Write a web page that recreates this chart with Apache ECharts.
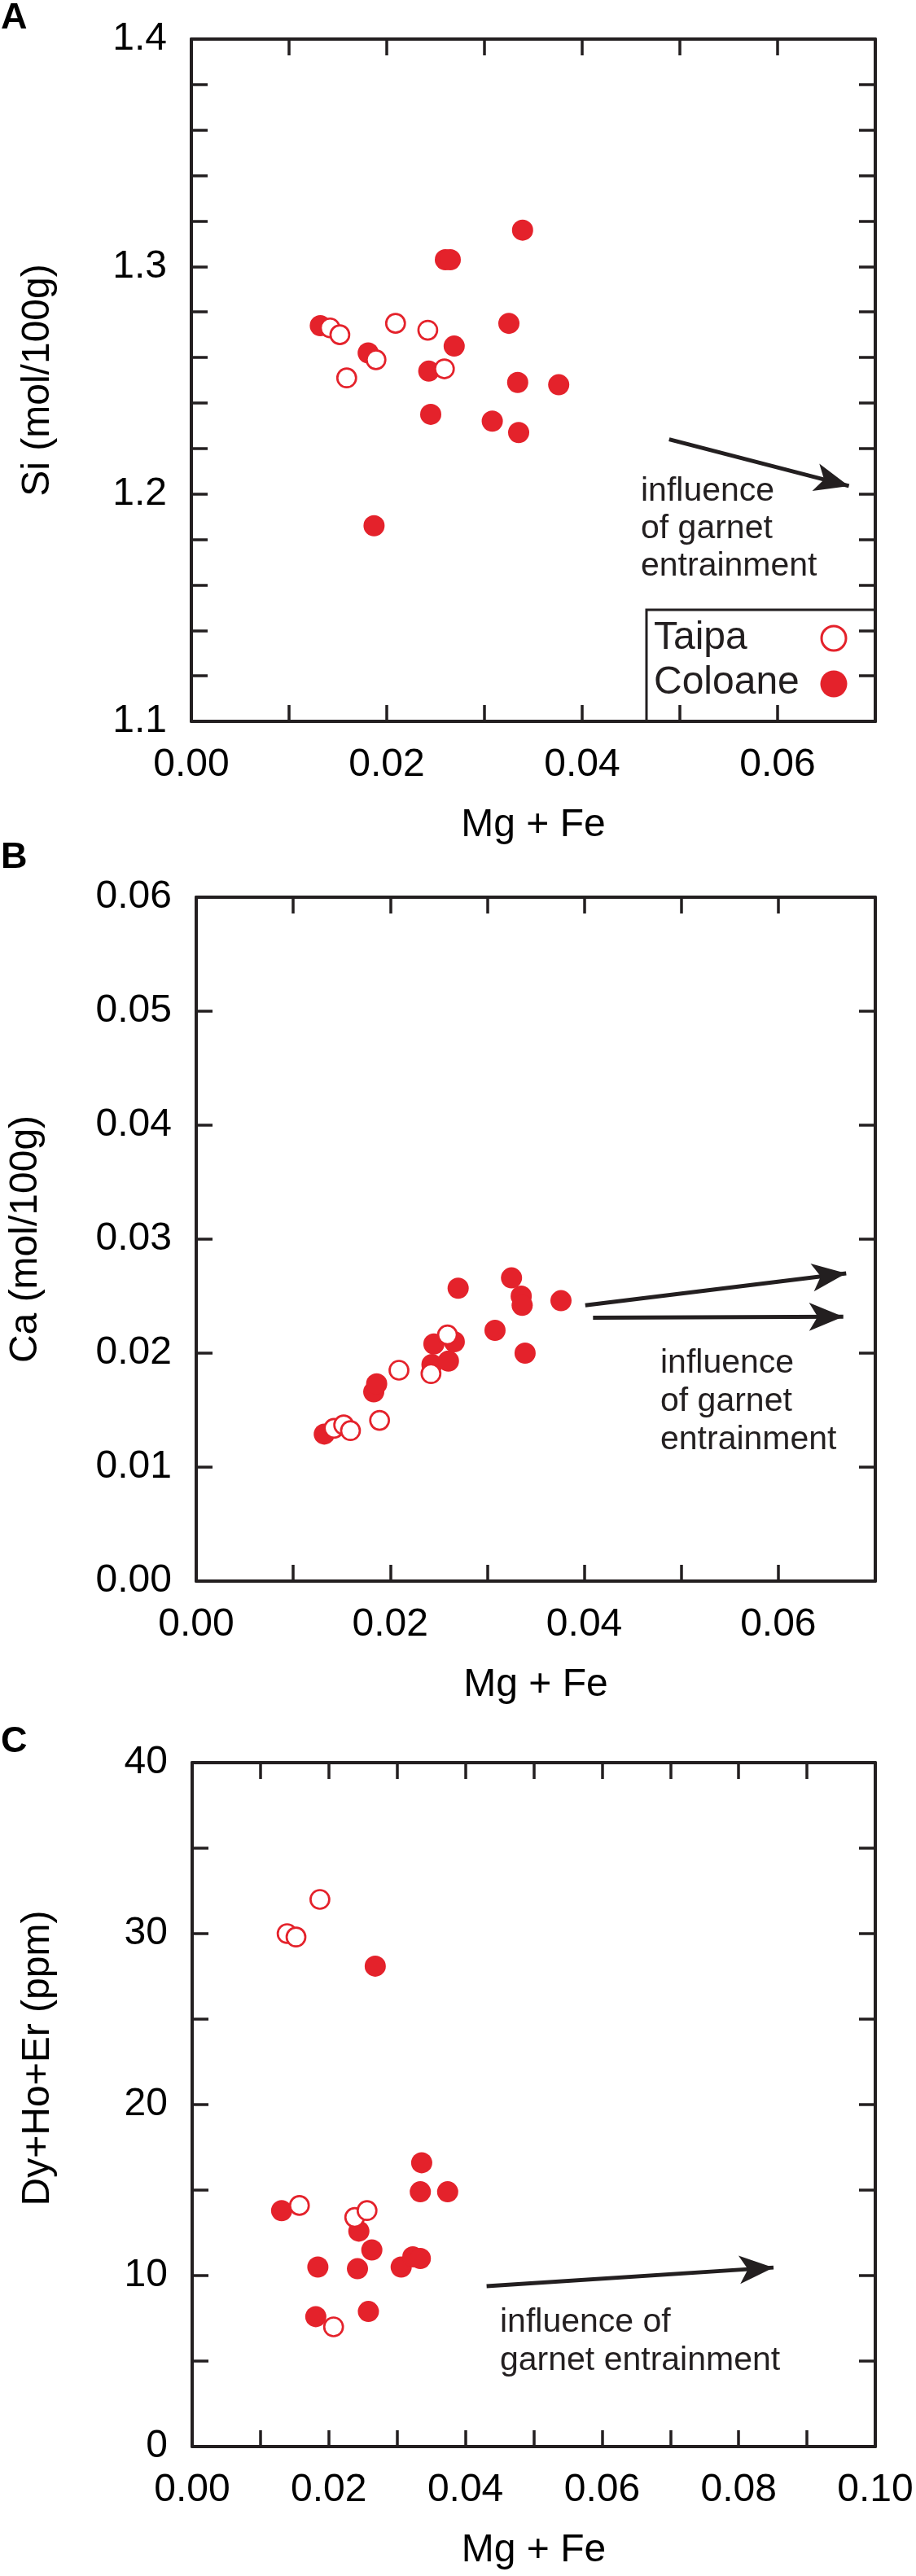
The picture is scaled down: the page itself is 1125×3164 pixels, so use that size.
<!DOCTYPE html>
<html>
<head>
<meta charset="utf-8">
<title>Mg + Fe plots</title>
<script src="https://cdn.jsdelivr.net/npm/echarts@6/dist/echarts.min.js"></script>
<style>
html, body { margin: 0; padding: 0; background: #fff; }
#chart { width: 1125px; height: 3164px; }
</style>
</head>
<body>
<div id="chart"></div>
<script>
// === Panel A: Si vs Mg + Fe ===
const aColoaneX = [0.0132, 0.0181, 0.0187, 0.0243, 0.0245, 0.0260, 0.0265, 0.0269, 0.0308, 0.0325, 0.0339, 0.0334, 0.0335, 0.0376];
const aColoaneY = [1.274, 1.262, 1.186, 1.254, 1.235, 1.303, 1.303, 1.265, 1.232, 1.275, 1.316, 1.249, 1.227, 1.248];
const aTaipaX = [0.0142, 0.0152, 0.0159, 0.0189, 0.0209, 0.0242, 0.0259];
const aTaipaY = [1.273, 1.270, 1.251, 1.259, 1.275, 1.272, 1.255];
const aArrow = [[0.0489, 1.224], [0.0673, 1.2035]];
const aXLabels = [0, 0.02, 0.04, 0.06];
const aYLabels = [1.1, 1.2, 1.3, 1.4];

// === Panel B: Ca vs Mg + Fe ===
const bColoaneX = [0.0132, 0.0183, 0.0186, 0.0245, 0.0243, 0.0260, 0.0266, 0.0270, 0.0308, 0.0325, 0.0335, 0.0336, 0.0339, 0.0376];
const bColoaneY = [0.0129, 0.0166, 0.0173, 0.0208, 0.0190, 0.0193, 0.0210, 0.0257, 0.0220, 0.0266, 0.0250, 0.0242, 0.0200, 0.0246];
const bTaipaX = [0.0142, 0.0152, 0.0159, 0.0189, 0.0209, 0.0242, 0.0259];
const bTaipaY = [0.0134, 0.0137, 0.0132, 0.0141, 0.0185, 0.0182, 0.0216];
const bArrows = [
  [[0.0401, 0.0242], [0.0670, 0.0270]],
  [[0.0409, 0.0231], [0.0667, 0.0232]]
];
const bXLabels = [0, 0.02, 0.04, 0.06];
const bYLabels = [0, 0.01, 0.02, 0.03, 0.04, 0.05, 0.06];

// === Panel C: Dy+Ho+Er vs Mg + Fe ===
const cColoaneX = [0.0131, 0.0184, 0.0181, 0.0244, 0.0242, 0.0263, 0.0258, 0.0268, 0.0306, 0.0323, 0.0336, 0.0334, 0.0334, 0.0374];
const cColoaneY = [13.8, 10.5, 7.6, 12.6, 10.4, 11.5, 7.9, 28.1, 10.5, 11.1, 16.6, 14.9, 11.0, 14.9];
const cTaipaX = [0.0139, 0.0152, 0.0187, 0.0157, 0.0207, 0.0238, 0.0256];
const cTaipaY = [30.0, 29.8, 32.0, 14.1, 7.0, 13.4, 13.8];
const cArrow = [[0.0431, 9.38], [0.0851, 10.47]];
const cXLabels = [0, 0.02, 0.04, 0.06, 0.08, 0.10];
const cYLabels = [0, 10, 20, 30, 40];

const FONT = '"Liberation Sans", Arial, Helvetica, sans-serif';
const RED = '#e4222b';
const INK = '#231f20';

const grids = [
  { left: 235, top: 48, width: 840, height: 838 },
  { left: 237, top: 1102, width: 838, height: 840 },
  { left: 236, top: 2165, width: 839, height: 840 }
];

function pickLabel(list, digits) {
  return function (v) {
    for (var i = 0; i < list.length; i++) {
      if (Math.abs(v - list[i]) < 1e-6) return list[i].toFixed(digits);
    }
    return '';
  };
}

const axLine = { onZero: false, lineStyle: { color: INK, width: 4 } };
const axTick = { inside: true, length: 20, lineStyle: { color: INK, width: 3.5 } };
const labelFont = { fontSize: 48, color: '#000', fontFamily: FONT };

function xAxes(g, max, labels) {
  return [
    { type: 'value', gridIndex: g, position: 'bottom', min: 0, max: max, interval: 0.01,
      axisLine: axLine, axisTick: axTick, splitLine: { show: false },
      axisLabel: Object.assign({ formatter: pickLabel(labels, 2), margin: 30 }, labelFont),
      name: 'Mg + Fe', nameLocation: 'middle', nameGap: 104, nameTextStyle: labelFont },
    { type: 'value', gridIndex: g, position: 'top', min: 0, max: max, interval: 0.01,
      axisLine: axLine, axisTick: axTick, splitLine: { show: false }, axisLabel: { show: false } }
  ];
}

function yAxes(g, min, max, step, labels, digits, name, gap, pad) {
  return [
    { type: 'value', gridIndex: g, position: 'left', min: min, max: max, interval: step,
      axisLine: axLine, axisTick: axTick, splitLine: { show: false },
      axisLabel: Object.assign({ formatter: pickLabel(labels, digits), margin: 30 }, labelFont),
      name: name, nameLocation: 'middle', nameGap: gap,
      nameTextStyle: Object.assign({ padding: pad }, labelFont) },
    { type: 'value', gridIndex: g, position: 'right', min: min, max: max, interval: step,
      axisLine: axLine, axisTick: axTick, splitLine: { show: false }, axisLabel: { show: false } }
  ];
}

function zip(xs, ys) {
  return xs.map(function (x, i) { return [x, ys[i]]; });
}

function arrowLines(list) {
  return {
    silent: true,
    symbol: ['none', 'arrow'],
    symbolSize: [26, 42],
    lineStyle: { color: INK, width: 5, type: 'solid' },
    label: { show: false },
    data: list.map(function (a) { return [{ coord: a[0] }, { coord: a[1] }]; })
  };
}

function panelSeries(g, colX, colY, taiX, taiY, arrows) {
  const ax = g * 2;
  return [
    { name: 'Coloane', type: 'scatter', xAxisIndex: ax, yAxisIndex: ax,
      symbol: 'circle', symbolSize: 26, itemStyle: { color: RED, opacity: 1 },
      data: zip(colX, colY), markLine: arrowLines(arrows) },
    { name: 'Taipa', type: 'scatter', xAxisIndex: ax, yAxisIndex: ax,
      symbol: 'circle', symbolSize: 23,
      itemStyle: { color: '#fff', borderColor: RED, borderWidth: 2.7, opacity: 1 },
      data: zip(taiX, taiY) }
  ];
}

function note(x, y, text, lh) {
  return { type: 'text', x: x, y: y,
    style: { text: text, font: '41px ' + FONT, fill: INK, lineHeight: lh, verticalAlign: 'middle' } };
}

function letter(y, t) {
  return { type: 'text', x: 1, y: y, style: { text: t, font: 'bold 45px ' + FONT, fill: '#000' } };
}

const graphics = [
  letter(0, 'A'), letter(1031, 'B'), letter(2117, 'C'),
  note(787, 650, 'influence\nof garnet\nentrainment', 46),
  note(811, 1722, 'influence\nof garnet\nentrainment', 47),
  note(614, 2876, 'influence of\ngarnet entrainment', 47),
  // legend box of panel A
  { type: 'rect', shape: { x: 794, y: 749, width: 281, height: 137 },
    style: { fill: 'none', stroke: INK, lineWidth: 3 } },
  { type: 'text', x: 803, y: 784, style: { text: 'Taipa', font: '48px ' + FONT, fill: INK, verticalAlign: 'middle' } },
  { type: 'text', x: 803, y: 839, style: { text: 'Coloane', font: '48px ' + FONT, fill: INK, verticalAlign: 'middle' } },
  { type: 'circle', shape: { cx: 1024, cy: 784, r: 15 }, style: { fill: '#fff', stroke: RED, lineWidth: 3 } },
  { type: 'circle', shape: { cx: 1024, cy: 840, r: 16.5 }, style: { fill: RED } }
];

const option = {
  animation: false,
  backgroundColor: '#fff',
  grid: grids,
  xAxis: [].concat(xAxes(0, 0.07, aXLabels), xAxes(1, 0.07, bXLabels), xAxes(2, 0.10, cXLabels)),
  yAxis: [].concat(
    yAxes(0, 1.1, 1.4, 0.02, aYLabels, 1, 'Si (mol/100g)', 164, [0, 0, 0, 0]),
    yAxes(1, 0, 0.06, 0.01, bYLabels, 2, 'Ca (mol/100g)', 185, [0, 0, 0, 0]),
    yAxes(2, 0, 40, 5, cYLabels, 0, 'Dy+Ho+Er (ppm)', 165, [0, 0, 0, 114])
  ),
  series: [].concat(
    panelSeries(0, aColoaneX, aColoaneY, aTaipaX, aTaipaY, [aArrow]),
    panelSeries(1, bColoaneX, bColoaneY, bTaipaX, bTaipaY, bArrows),
    panelSeries(2, cColoaneX, cColoaneY, cTaipaX, cTaipaY, [cArrow])
  ),
  graphic: graphics
};

const chart = echarts.init(document.getElementById('chart'), null, { renderer: 'canvas' });
chart.setOption(option);
</script>
</body>
</html>
